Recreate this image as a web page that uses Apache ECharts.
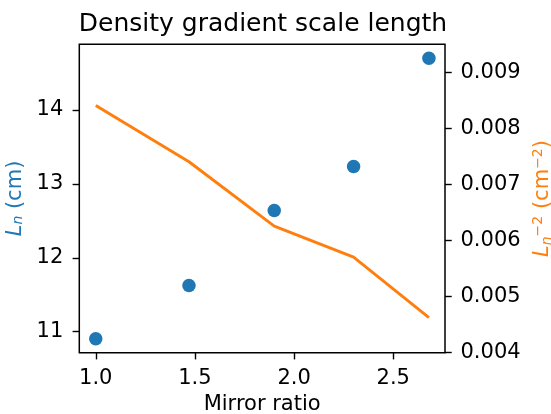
<!DOCTYPE html>
<html>
<head>
<meta charset="utf-8">
<script src="https://cdn.jsdelivr.net/npm/echarts@6/dist/echarts.min.js"></script>
<style>html,body{margin:0;padding:0;background:#fff}#c{width:551px;height:414px}</style>
</head>
<body>
<div id="c"></div>
<script>
const mirrorRatio = [1.0, 1.47, 1.90, 2.30, 2.68];
const scaleLength = [10.905, 11.625, 12.64, 13.235, 14.70];
const invSquare = [0.00841, 0.007405, 0.006258, 0.005706, 0.004624];
const xTicks = [1.0, 1.5, 2.0, 2.5];
const leftTicks = [11, 12, 13, 14];
const rightTicks = [0.004, 0.005, 0.006, 0.007, 0.008, 0.009];

const FONT = 'DejaVu Sans';
const FS = 21;
const chart = echarts.init(document.getElementById('c'), null, {renderer: 'canvas'});
const tickStyle = {length: 6.7, inside: false, lineStyle: {color: '#000', width: 1.4}};
const labelBase = {color: '#000', fontFamily: FONT, fontSize: FS};

chart.setOption({
  animation: false,
  backgroundColor: '#fff',
  title: {
    text: 'Density gradient scale length',
    left: 258, top: 7, textAlign: 'center',
    textStyle: {fontFamily: FONT, fontSize: 25, fontWeight: 'normal', color: '#000'}
  },
  grid: {left: 79.3, right: 106, top: 44.3, bottom: 61.3, show: true,
         containLabel: false, outerBoundsMode: 'none',
         borderColor: '#000', borderWidth: 1.5, backgroundColor: 'transparent'},
  xAxis: {
    type: 'value', min: 0.917, max: 2.761,
    name: 'Mirror ratio', nameLocation: 'middle', nameGap: 40,
    nameTextStyle: {fontFamily: FONT, fontSize: FS, color: '#000'},
    axisLine: {show: false}, splitLine: {show: false},
    axisTick: Object.assign({customValues: xTicks}, tickStyle),
    axisLabel: Object.assign({customValues: xTicks, margin: 15,
      formatter: v => v.toFixed(1)}, labelBase)
  },
  yAxis: [{
    type: 'value', min: 10.715, max: 14.89, position: 'left',
    name: '{i|L}{s|n} (cm)', nameLocation: 'middle', nameRotate: 90, nameGap: 48,
    nameTextStyle: {fontFamily: FONT, fontSize: FS, color: '#1f77b4',
      rich: {i: {fontFamily: FONT, fontSize: FS, fontStyle: 'italic', color: '#1f77b4'},
             s: {fontFamily: FONT, fontSize: 14, fontStyle: 'italic', color: '#1f77b4', padding: [7, 0, 0, 0]}}},
    axisLine: {show: false}, splitLine: {show: false},
    axisTick: Object.assign({customValues: leftTicks}, tickStyle),
    axisLabel: Object.assign({customValues: leftTicks, margin: 16,
      formatter: v => String(v)}, labelBase)
  }, {
    type: 'value', min: 0.004, max: 0.0095, position: 'right',
    name: '{i|L}{s|n}{p|−2} (cm{p|−2})', nameLocation: 'middle', nameRotate: 90, nameGap: 78,
    nameTextStyle: {fontFamily: FONT, fontSize: FS, color: '#ff7f0e',
      rich: {i: {fontFamily: FONT, fontSize: FS, fontStyle: 'italic', color: '#ff7f0e'},
             s: {fontFamily: FONT, fontSize: 14, fontStyle: 'italic', color: '#ff7f0e', padding: [9, 0, 0, 0]},
             p: {fontFamily: FONT, fontSize: 14, color: '#ff7f0e', padding: [0, 0, 9, 0]}}},
    axisLine: {show: false}, splitLine: {show: false},
    axisTick: Object.assign({customValues: rightTicks}, tickStyle),
    axisLabel: Object.assign({customValues: rightTicks, margin: 15.5,
      formatter: v => v.toFixed(3)}, labelBase)
  }],
  series: [{
    type: 'scatter', yAxisIndex: 0,
    data: mirrorRatio.map((x, i) => [x, scaleLength[i]]),
    symbol: 'circle', symbolSize: 13.5,
    itemStyle: {color: '#1f77b4', opacity: 1}
  }, {
    type: 'line', yAxisIndex: 1,
    data: mirrorRatio.map((x, i) => [x, invSquare[i]]),
    showSymbol: false, symbol: 'none',
    lineStyle: {color: '#ff7f0e', width: 2.9, cap: 'butt'}
  }]
});
</script>
</body>
</html>
